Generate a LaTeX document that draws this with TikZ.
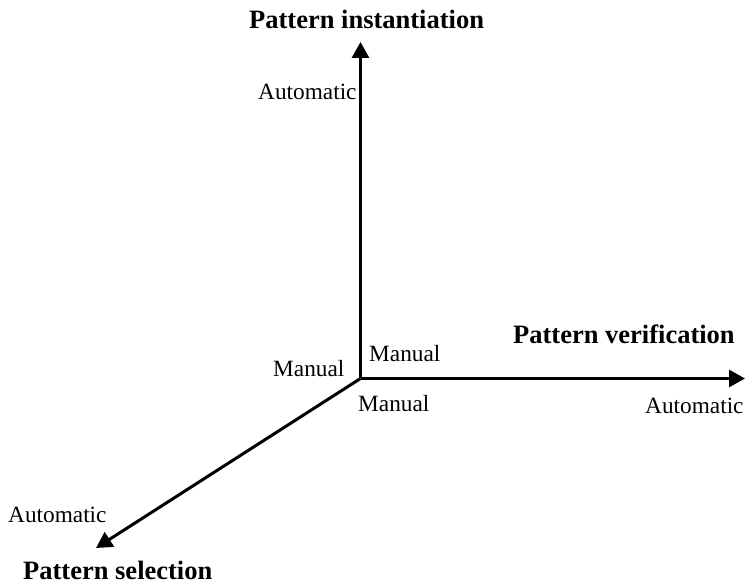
\documentclass[tikz,border=0pt]{standalone}
\usepackage{fontspec}
\setmainfont{Liberation Serif}
\usetikzlibrary{arrows.meta}
\begin{document}
\begin{tikzpicture}[x=1pt,y=-1pt,
  axis/.style={line width=3pt,-{Triangle[length=16pt,width=17pt]}},
  lbl/.style={inner sep=0pt,anchor=base west,font=\fontsize{23.3}{26}\selectfont},
  title/.style={inner sep=0pt,anchor=base west,font=\fontsize{26.5}{30}\selectfont\bfseries}]
\useasboundingbox (0,0) rectangle (745,585);
% axes meeting at the origin
\coordinate (o) at (360.5,378.5);
\coordinate (up) at (360.5,42);
\coordinate (right) at (745,378.5);
\coordinate (down) at (96,548);
\draw[axis] (o) -- (up);
\draw[axis] (o) -- (right);
\draw[axis] (o) -- (down);
% axis titles
\node[title] (tinst) at (249,29) {Pattern instantiation};
\node[title] (tver) at (513,344) {Pattern verification};
\node[title] (tsel) at (23,579.5) {Pattern selection};
% scale ends
\node[lbl] (aup) at (258,100) {Automatic};
\node[lbl] (mup) at (369,362) {Manual};
\node[lbl] (mleft) at (273,377) {Manual};
\node[lbl] (mdown) at (358,412) {Manual};
\node[lbl] (aright) at (645,414) {Automatic};
\node[lbl] (adown) at (8,522) {Automatic};
\end{tikzpicture}
\end{document}
